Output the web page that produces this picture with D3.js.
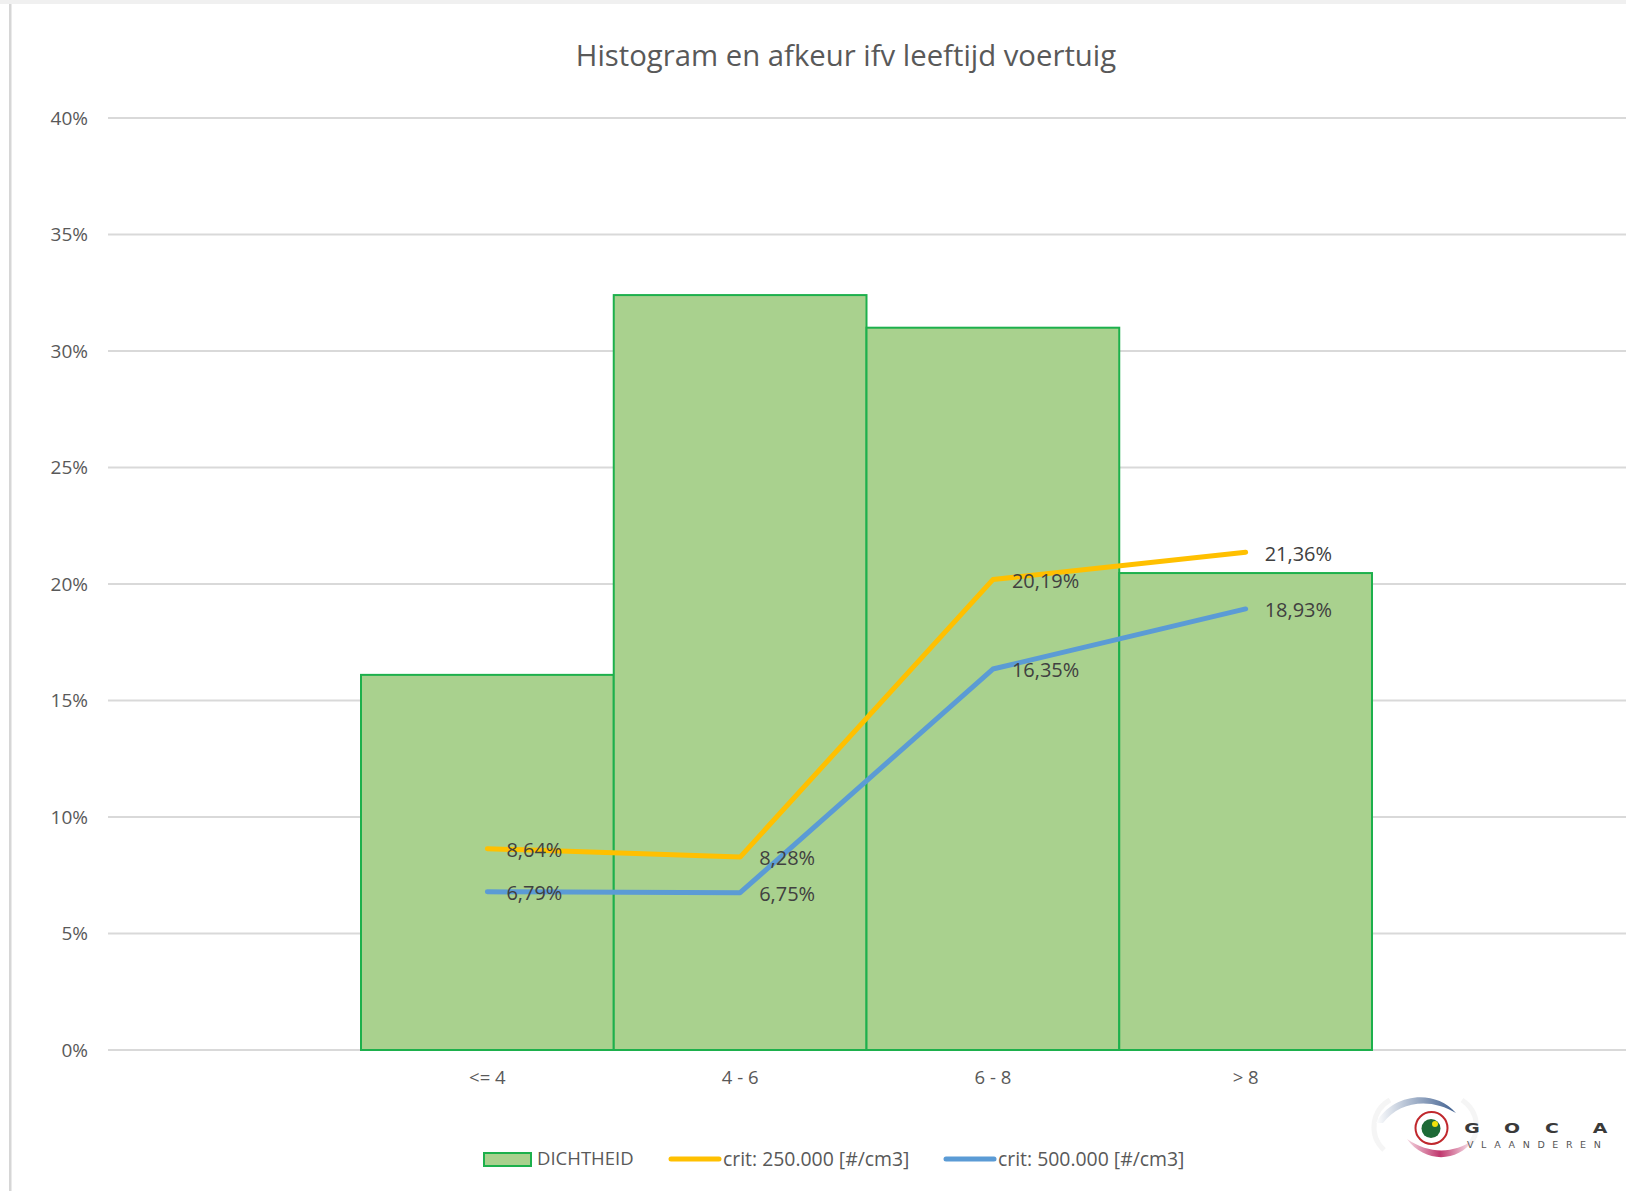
<!DOCTYPE html>
<html>
<head>
<meta charset="utf-8">
<script src="https://cdn.jsdelivr.net/npm/d3@7"></script>
<style>
  html, body { margin: 0; padding: 0; background: #fff; }
  svg text { font-family: "Open Sans", "Liberation Sans", sans-serif; }
</style>
</head>
<body>
<div id="chart"></div>
<script>
// chart data
const categories = ["<= 4", "4 - 6", "6 - 8", "> 8"];
const dichtheid = [16.1, 32.4, 31.0, 20.47];      // bars, %
const crit250 = [8.64, 8.28, 20.19, 21.36];       // yellow line, %
const crit500 = [6.79, 6.75, 16.35, 18.93];       // blue line, %
const yTicks = [0, 5, 10, 15, 20, 25, 30, 35, 40];
const legendLabels = ["DICHTHEID", "crit: 250.000 [#/cm3]", "crit: 500.000 [#/cm3]"];
const titleText = "Histogram en afkeur ifv leeftijd voertuig";

const W = 1626, H = 1191;

// dutch style numbers: 8,64%
const nl = d3.formatLocale({ decimal: ",", thousands: ".", grouping: [3], currency: ["€", ""] });
const fmtLabel = v => nl.format(".2f")(v) + "%";

const svg = d3.select("#chart").append("svg")
    .attr("width", W)
    .attr("height", H);

// screenshot frame: grey strip on top and a line on the left
svg.append("rect").attr("x", 0).attr("y", 0).attr("width", W).attr("height", 4).attr("fill", "#f0f0f0");
svg.append("rect").attr("x", 9).attr("y", 4).attr("width", 2.5).attr("height", H - 4).attr("fill", "#d6d6d6");

// scales
const y = d3.scaleLinear().domain([0, 40]).range([1050, 118]);
const x = d3.scaleBand().domain(categories).range([361, 1372]).padding(0);
const cx = d => x(d) + x.bandwidth() / 2;

// gridlines
svg.append("g").selectAll("line")
    .data(yTicks)
    .enter()
    .append("line")
    .attr("x1", 108).attr("x2", W)
    .attr("y1", d => y(d)).attr("y2", d => y(d))
    .attr("stroke", "#d9d9d9")
    .attr("stroke-width", 2);

// y axis labels
svg.append("g").selectAll("text")
    .data(yTicks)
    .enter()
    .append("text")
    .attr("x", 88)
    .attr("y", d => y(d))
    .attr("dy", "0.35em")
    .attr("text-anchor", "end")
    .attr("font-size", 19)
    .attr("fill", "#595959")
    .text(d => d + "%");

// bars
svg.append("g").selectAll("rect")
    .data(categories)
    .enter()
    .append("rect")
    .attr("x", d => x(d))
    .attr("y", (d, i) => y(dichtheid[i]))
    .attr("width", x.bandwidth())
    .attr("height", (d, i) => y(0) - y(dichtheid[i]))
    .attr("fill", "#a9d18e")
    .attr("stroke", "#1db04c")
    .attr("stroke-width", 2);

// x axis labels
svg.append("g").selectAll("text")
    .data(categories)
    .enter()
    .append("text")
    .attr("x", d => cx(d))
    .attr("y", 1078)
    .attr("dy", "0.35em")
    .attr("text-anchor", "middle")
    .attr("font-size", 18.5)
    .attr("fill", "#595959")
    .text(d => d);

// lines
const series = [
    { vals: crit250, color: "#ffc000" },
    { vals: crit500, color: "#5b9bd5" }
];
const line = d3.line()
    .x((d, i) => cx(categories[i]))
    .y(d => y(d));

series.forEach(function (s) {
    svg.append("path")
        .datum(s.vals)
        .attr("d", line)
        .attr("fill", "none")
        .attr("stroke", s.color)
        .attr("stroke-width", 5)
        .attr("stroke-linecap", "round")
        .attr("stroke-linejoin", "round");
});

// data labels, to the right of each point
series.forEach(function (s) {
    svg.append("g").selectAll("text")
        .data(s.vals)
        .enter()
        .append("text")
        .attr("x", (d, i) => cx(categories[i]) + 19)
        .attr("y", d => y(d))
        .attr("dy", "0.42em")
        .attr("font-size", 20)
        .attr("fill", "#404040")
        .text(d => fmtLabel(d));
});

// title
svg.append("text")
    .attr("x", 846)
    .attr("y", 56)
    .attr("dy", "0.35em")
    .attr("text-anchor", "middle")
    .attr("font-size", 29.3)
    .attr("fill", "#595959")
    .text(titleText);

// legend
const lg = svg.append("g");
lg.append("rect")
    .attr("x", 484).attr("y", 1153).attr("width", 47).attr("height", 13)
    .attr("fill", "#a9d18e").attr("stroke", "#1db04c").attr("stroke-width", 2);
lg.append("text").attr("x", 537).attr("y", 1159).attr("dy", "0.35em")
    .attr("font-size", 18.5).attr("fill", "#595959").text(legendLabels[0]);

lg.append("line").attr("x1", 671).attr("x2", 719).attr("y1", 1159).attr("y2", 1159)
    .attr("stroke", series[0].color).attr("stroke-width", 5).attr("stroke-linecap", "round");
lg.append("text").attr("x", 723).attr("y", 1159).attr("dy", "0.35em")
    .attr("font-size", 19.4).attr("fill", "#595959").text(legendLabels[1]);

lg.append("line").attr("x1", 946).attr("x2", 994).attr("y1", 1159).attr("y2", 1159)
    .attr("stroke", series[1].color).attr("stroke-width", 5).attr("stroke-linecap", "round");
lg.append("text").attr("x", 998).attr("y", 1159).attr("dy", "0.35em")
    .attr("font-size", 19.4).attr("fill", "#595959").text(legendLabels[2]);

// GOCA Vlaanderen logo, drawn roughly
const defs = svg.append("defs");
const gBlue = defs.append("linearGradient").attr("id", "gBlue").attr("x1", "0").attr("x2", "1");
gBlue.append("stop").attr("offset", "0").attr("stop-color", "#ffffff");
gBlue.append("stop").attr("offset", "1").attr("stop-color", "#3f5f8f");
const gPink = defs.append("linearGradient").attr("id", "gPink").attr("x1", "0").attr("x2", "1");
gPink.append("stop").attr("offset", "0").attr("stop-color", "#f4d6e0");
gPink.append("stop").attr("offset", "0.5").attr("stop-color", "#c0386e");
gPink.append("stop").attr("offset", "1").attr("stop-color", "#fbeef3");

const logo = svg.append("g");
// faint grey rings behind the swooshes
logo.append("path")
    .attr("d", "M1384,1150 C1368,1135 1372,1110 1390,1100")
    .attr("fill", "none").attr("stroke", "#f5f5f5").attr("stroke-width", 5);
logo.append("path")
    .attr("d", "M1462,1100 C1480,1112 1480,1135 1468,1146")
    .attr("fill", "none").attr("stroke", "#f5f5f5").attr("stroke-width", 5);
logo.append("path")
    .attr("d", "M1376,1123 C1392,1094 1434,1088 1456,1113 C1432,1098 1400,1100 1383,1123 Z")
    .attr("fill", "url(#gBlue)");
logo.append("path")
    .attr("d", "M1407,1139 C1424,1163 1458,1163 1473,1140 C1455,1153 1430,1155 1407,1139 Z")
    .attr("fill", "url(#gPink)");
logo.append("circle").attr("cx", 1431.5).attr("cy", 1128).attr("r", 16)
    .attr("fill", "#fff").attr("stroke", "#c0282d").attr("stroke-width", 2);
logo.append("circle").attr("cx", 1431).attr("cy", 1128.5).attr("r", 9.5).attr("fill", "#1d6a36");
logo.append("circle").attr("cx", 1435).attr("cy", 1124).attr("r", 3).attr("fill", "#f0e20c");

const gocaLetters = ["G", "O", "C", "A"];
const gocaX = [1472, 1512, 1552, 1600];
logo.append("g").selectAll("text")
    .data(gocaLetters)
    .enter()
    .append("text")
    .attr("x", (d, i) => gocaX[i])
    .attr("y", 1133)
    .attr("text-anchor", "middle")
    .attr("font-size", 14)
    .attr("font-weight", "bold")
    .attr("transform", (d, i) => `translate(${gocaX[i]},0) scale(1.35,1) translate(${-gocaX[i]},0)`)
    .style("font-family", "'DejaVu Sans', sans-serif")
    .attr("fill", "#3a3a3a")
    .text(d => d);
logo.append("text")
    .attr("x", 1467)
    .attr("y", 1148)
    .attr("font-size", 9.5)
    .attr("letter-spacing", 7.6)
    .style("font-family", "'DejaVu Sans', sans-serif")
    .attr("fill", "#555")
    .text("VLAANDEREN");
</script>
</body>
</html>
